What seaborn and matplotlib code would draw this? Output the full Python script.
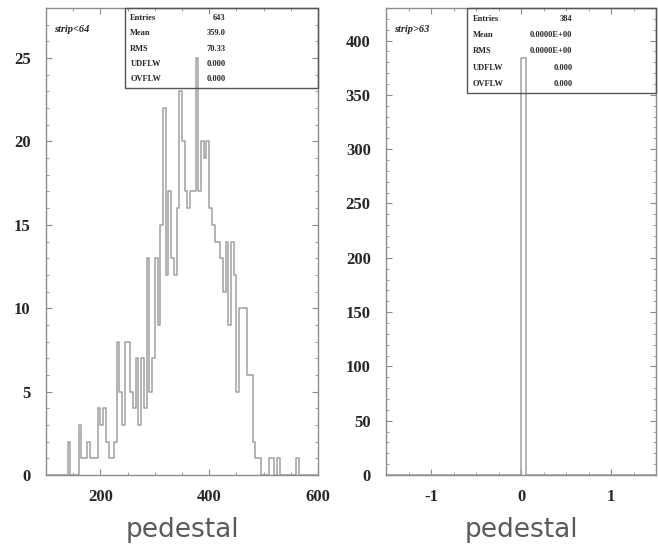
import numpy as np
import pandas as pd
import matplotlib
matplotlib.use("Agg")
import matplotlib.pyplot as plt
from matplotlib.patches import Rectangle
from matplotlib.ticker import MultipleLocator
import seaborn as sns

# ---- data -------------------------------------------------------------
# strip<64 : pedestal histogram, 5-unit bins from 100 to 600 (lower edges)
low_edges = list(range(100, 600, 5))
low_counts = [
    0, 0, 0, 0, 0, 0, 0, 0, 2, 0,          # 100-145
    0, 0, 3, 1, 1, 2, 1, 1, 1, 4,          # 150-195
    3, 4, 2, 1, 1, 2, 8, 5, 3, 8,          # 200-245
    8, 5, 4, 7, 3, 7, 4, 13, 5, 7,         # 250-295
    13, 9, 15, 22, 12, 17, 13, 12, 16, 23, # 300-345
    20, 17, 16, 17, 17, 25, 17, 20, 19, 20,# 350-395
    16, 15, 14, 14, 13, 11, 14, 9, 14, 12, # 400-445
    5, 10, 10, 10, 6, 6, 2, 1, 1, 0,       # 450-495
    0, 0, 1, 1, 0, 1, 0, 0, 0, 0,          # 500-545
    0, 0, 1, 0, 0, 0, 0, 0, 0, 0,          # 550-595
]
low_binwidth = 5

# strip>63 : every entry sits in the bin starting at 0
high_edges = [round(-1.5 + 0.05 * i, 2) for i in range(60)]
high_counts = [0] * 60
high_counts[30] = 384
high_binwidth = 0.05

titles = ["strip<64", "strip>63"]

# ---- style ------------------------------------------------------------
sns.set_style("ticks")
plt.rcParams["font.family"] = ["Liberation Serif", "DejaVu Serif"]
frame_col = "#8c8c8c"
line_col = "#a0a0a0"

fig = plt.figure(figsize=(6.58, 5.56), dpi=100)
ax_l = fig.add_axes([46 / 658, 81 / 556, 272 / 658, 467 / 556])
ax_r = fig.add_axes([386 / 658, 81 / 556, 270 / 658, 467 / 556])


def draw_hist(ax, edges, counts, width):
    df = pd.DataFrame({"x": np.array(edges) + width / 2, "w": counts})
    bins = list(edges) + [edges[-1] + width]
    sns.histplot(data=df, x="x", weights="w", bins=bins, element="step",
                 fill=False, color=line_col, linewidth=1.1, ax=ax)
    return np.array(df["x"]), np.array(counts, dtype=float)


def stats_box(ax, x0, y0, rows, val_x):
    ax.add_patch(Rectangle((x0, y0), 1 - x0, 1 - y0, transform=ax.transAxes,
                           fill=False, edgecolor="#555555", linewidth=1.0,
                           zorder=5, clip_on=False))
    n = len(rows)
    step = (1 - y0) / (n + 0.2)
    for i, (name, val) in enumerate(rows):
        y = 1 - step * (i + 0.65)
        ax.text(x0 + 0.02, y, name, transform=ax.transAxes, fontsize=6,
                fontweight="bold", va="center", ha="left", zorder=6)
        ax.text(val_x, y, val, transform=ax.transAxes, fontsize=6,
                fontweight="bold", va="center", ha="right", zorder=6)


def style_axes(ax):
    for sp in ax.spines.values():
        sp.set_color(frame_col)
        sp.set_linewidth(1.0)
    ax.tick_params(which="both", direction="in", top=True, right=True,
                   color=frame_col, labelsize=12)
    ax.tick_params(axis="x", pad=10)
    ax.tick_params(axis="y", pad=11)
    ax.tick_params(which="major", length=4)
    ax.tick_params(which="minor", length=2)
    for lab in ax.get_xticklabels() + ax.get_yticklabels():
        lab.set_fontweight("bold")
    ax.set_ylabel("")
    ax.set_xlabel("pedestal", fontsize=19, color="#5a5a5a",
                  family=["DejaVu Sans"], labelpad=9)


# left panel
xc, w = draw_hist(ax_l, low_edges, low_counts, low_binwidth)
ax_l.set_xlim(100, 600)
ax_l.set_ylim(0, 28)
ax_l.xaxis.set_major_locator(MultipleLocator(200))
ax_l.xaxis.set_minor_locator(MultipleLocator(50))
ax_l.yaxis.set_major_locator(MultipleLocator(5))
ax_l.yaxis.set_minor_locator(MultipleLocator(1))
n_l = w.sum()
mean_l = (xc * w).sum() / n_l
rms_l = np.sqrt(((xc - mean_l) ** 2 * w).sum() / n_l)
style_axes(ax_l)
stats_box(ax_l, 0.29, 0.829,
          [("Entries", f"{int(n_l)}"), ("Mean", f"{mean_l:.1f}"),
           ("RMS", f"{rms_l:.2f}"), ("UDFLW", "0.000"), ("OVFLW", "0.000")],
          0.66)
ax_l.text(0.03, 0.955, titles[0], transform=ax_l.transAxes, fontsize=7.5,
          fontweight="bold", style="italic", va="center")

# right panel
xc, w = draw_hist(ax_r, high_edges, high_counts, high_binwidth)
ax_r.set_xlim(-1.5, 1.5)
ax_r.set_ylim(0, 430)
ax_r.xaxis.set_minor_locator(MultipleLocator(0.25))
ax_r.yaxis.set_major_locator(MultipleLocator(50))
ax_r.yaxis.set_minor_locator(MultipleLocator(10))
ax_r.set_xticks([-1, 0, 1])
ax_r.set_xticklabels(["-1", "0", "1"])
n_r = w.sum()
style_axes(ax_r)
stats_box(ax_r, 0.30, 0.818,
          [("Entries", f"{int(n_r)}"), ("Mean", "0.0000E+00"),
           ("RMS", "0.0000E+00"), ("UDFLW", "0.000"), ("OVFLW", "0.000")],
          0.69)
ax_r.text(0.03, 0.955, titles[1], transform=ax_r.transAxes, fontsize=7.5,
          fontweight="bold", style="italic", va="center")

fig.savefig("out.png", dpi=100)
